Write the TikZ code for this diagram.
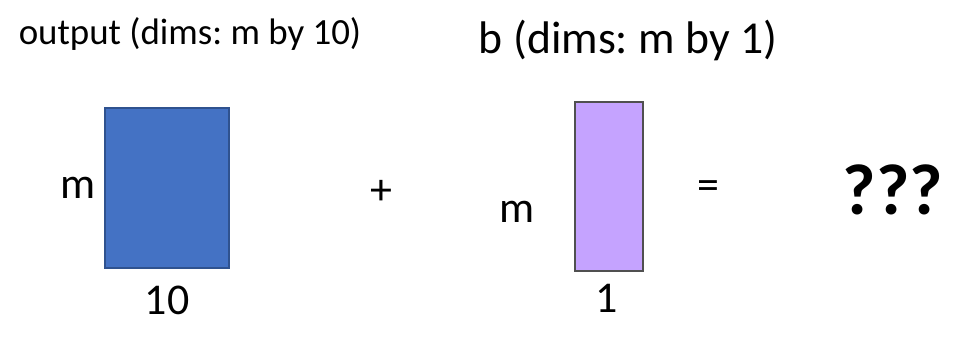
\documentclass[tikz,border=0pt]{standalone}
\usepackage{fontspec}
\setmainfont{Carlito}
\usepackage{tikz}
\usetikzlibrary{positioning}
\definecolor{matblue}{HTML}{4472C4}
\definecolor{matblueline}{HTML}{2F528F}
\definecolor{matpurple}{HTML}{C5A3FF}
\definecolor{matgrey}{HTML}{505050}
\frenchspacing

\begin{document}
\begin{tikzpicture}[x=0.02cm, y=-0.02cm,
    mat/.style={rectangle, draw=matblueline, fill=matblue, line width=1.2pt,
                inner sep=0pt, outer sep=0pt},
    vec/.style={rectangle, draw=matgrey, fill=matpurple, line width=1.4pt,
                inner sep=0pt, outer sep=0pt},
    lbl/.style={inner sep=0pt, font=\fontsize{25}{30}\selectfont}
]
\useasboundingbox (0,0) rectangle (966,341);

\node[lbl, font=\fontsize{21}{25}\selectfont] (outtitle) at (190,34) {output (dims: m by 10)};
\node[lbl, font=\fontsize{26}{31}\selectfont] (btitle) at (628,40) {b (dims: m by 1)};

\node[mat, minimum width=124*0.02cm, minimum height=160*0.02cm] (outmat) at (167,188) {};
\node[vec, minimum width=68*0.02cm, minimum height=169*0.02cm] (bvec) at (609,186.5) {};

\node[lbl] (outm) at (78,188) {m};
\node[lbl] (outn) at (167,300) {10};
\node[lbl] (bm) at (517,212) {m};
\node[lbl] (bn) at (607,298) {1};

\node[lbl] (plus) at (381,192) {+};
\node[lbl] (eq) at (708,190) {=};
\node[lbl, font=\fontsize{41}{49}\selectfont\bfseries] (res) at (893,190) {???};
\end{tikzpicture}
\end{document}
